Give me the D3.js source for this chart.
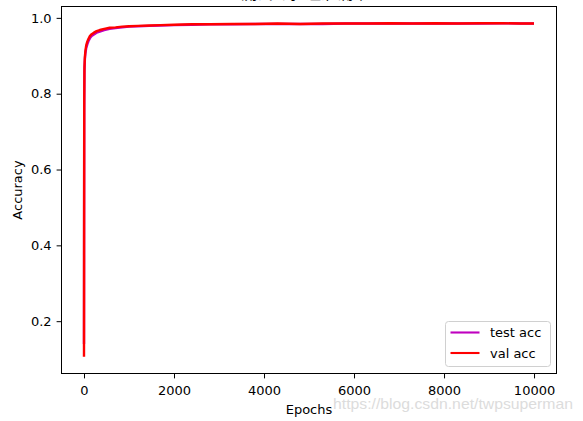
<!DOCTYPE html>
<html>
<head>
<meta charset="utf-8">
<script src="https://cdn.jsdelivr.net/npm/d3@7"></script>
<style>
  body { margin: 0; background: #fff; }
  svg { display: block; font-family: "DejaVu Sans", sans-serif; }
</style>
</head>
<body>
<script>
// values (accuracy per epoch)
const epochs = [0, 2, 5, 10, 20, 30, 50, 75, 100, 130, 170, 220, 280, 350, 450, 570, 700, 850, 1000, 1200, 1450, 1700, 2000, 2400, 2800, 3300, 3800, 4300, 4800, 5300, 5800, 6300, 6800, 7300, 7800, 8300, 8800, 9300, 9700, 9999];
const testAcc = [0.14, 0.40, 0.75, 0.86, 0.892, 0.905, 0.921, 0.931, 0.939, 0.946, 0.952, 0.956, 0.961, 0.964, 0.968, 0.971, 0.973, 0.975, 0.977, 0.978, 0.979, 0.980, 0.981, 0.982, 0.983, 0.983, 0.984, 0.984, 0.984, 0.984, 0.985, 0.985, 0.985, 0.985, 0.985, 0.985, 0.985, 0.986, 0.985, 0.985];
const valAcc = [0.106, 0.45, 0.78, 0.87, 0.898, 0.912, 0.928, 0.938, 0.945, 0.952, 0.957, 0.961, 0.965, 0.968, 0.971, 0.974, 0.975, 0.977, 0.978, 0.979, 0.980, 0.981, 0.982, 0.983, 0.983, 0.984, 0.984, 0.985, 0.984, 0.985, 0.985, 0.985, 0.986, 0.985, 0.986, 0.985, 0.986, 0.986, 0.985, 0.985];
const xTicks = [0, 2000, 4000, 6000, 8000, 10000];
const yTicks = [0.2, 0.4, 0.6, 0.8, 1.0];
const seriesNames = ["test acc", "val acc"];
const seriesColors = ["#bf00bf", "#ff0000"];

const width = 583, height = 421;
const m = { left: 61.5, right: 556.5, top: 6.5, bottom: 373.5 };
const fs = 13; // font size used by ticks and labels

const svg = d3.select("body").append("svg")
    .attr("width", width)
    .attr("height", height);

// matplotlib style 5% margins
const xExt = d3.extent(epochs);
const xPad = (xExt[1] - xExt[0]) * 0.05;
const x = d3.scaleLinear().domain([xExt[0] - xPad, xExt[1] + xPad]).range([m.left, m.right]);

const yExt = d3.extent(testAcc.concat(valAcc));
const yPad = (yExt[1] - yExt[0]) * 0.05;
const y = d3.scaleLinear().domain([yExt[0] - yPad, yExt[1] + yPad]).range([m.bottom, m.top]);

// title (almost fully off the top edge in the picture)
svg.append("text")
    .attr("x", 305)
    .attr("y", -1.5)
    .attr("text-anchor", "middle")
    .attr("font-family", "Noto Sans CJK SC")
    .attr("font-size", 16)
    .text("测试与验证准确率");

// lines
const line = d3.line().x((d, i) => x(epochs[i])).y(d => y(d));
[testAcc, valAcc].forEach((s, k) => {
    svg.append("path")
        .attr("d", line(s))
        .attr("fill", "none")
        .attr("stroke", seriesColors[k])
        .attr("stroke-width", 2.4)
        .attr("stroke-linejoin", "round");
});

// axes
const xAxis = svg.append("g")
    .attr("transform", `translate(0,${m.bottom})`)
    .call(d3.axisBottom(x).tickValues(xTicks).tickSize(4.9).tickPadding(7.5).tickFormat(d3.format("d")));
const yAxis = svg.append("g")
    .attr("transform", `translate(${m.left},0)`)
    .call(d3.axisLeft(y).tickValues(yTicks).tickSize(4.9).tickPadding(5).tickFormat(d3.format(".1f")));
[xAxis, yAxis].forEach(a => {
    a.select(".domain").remove();
    a.selectAll("text").attr("font-size", fs).attr("font-family", "DejaVu Sans").attr("fill", "#000");
    a.selectAll("line").attr("stroke", "#000").attr("stroke-width", 1);
});

// frame
svg.append("rect")
    .attr("x", m.left).attr("y", m.top)
    .attr("width", m.right - m.left).attr("height", m.bottom - m.top)
    .attr("fill", "none").attr("stroke", "#000").attr("stroke-width", 1);

// axis labels
svg.append("text")
    .attr("x", 309).attr("y", 414)
    .attr("text-anchor", "middle").attr("font-size", fs)
    .text("Epochs");
svg.append("text")
    .attr("transform", `translate(21.5,${(m.top + m.bottom) / 2}) rotate(-90)`)
    .attr("text-anchor", "middle").attr("font-size", fs)
    .text("Accuracy");

// legend
const lg = svg.append("g").attr("transform", "translate(445.5,321.5)");
lg.append("rect")
    .attr("width", 105).attr("height", 45).attr("rx", 3)
    .attr("fill", "#fff").attr("fill-opacity", 0.8)
    .attr("stroke", "#d0d0d0").attr("stroke-width", 1);
seriesNames.forEach((n, i) => {
    const yy = 11 + i * 20.5;
    lg.append("line")
        .attr("x1", 5).attr("x2", 34).attr("y1", yy).attr("y2", yy)
        .attr("stroke", seriesColors[i]).attr("stroke-width", 2.1);
    lg.append("text")
        .attr("x", 44.5).attr("y", yy + 4.7)
        .attr("font-size", fs)
        .text(n);
});

// watermark
svg.append("text")
    .attr("x", 333).attr("y", 408.5)
    .attr("font-family", "Liberation Sans, Arial, sans-serif")
    .attr("font-size", 14.5)
    .attr("textLength", 240)
    .attr("lengthAdjust", "spacingAndGlyphs")
    .attr("fill", "#dcdcdc")
    .text("https://blog.csdn.net/twpsuperman");
</script>
</body>
</html>
